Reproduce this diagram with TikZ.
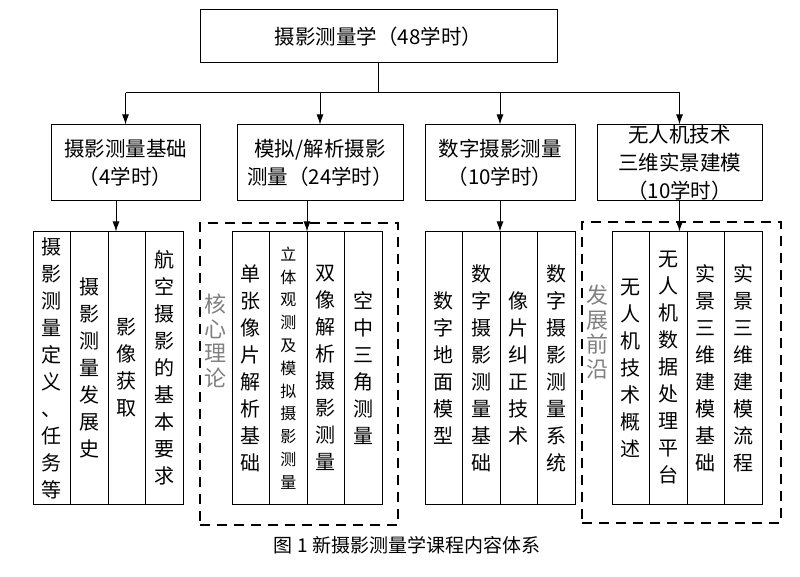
\documentclass[tikz,border=0pt]{standalone}
\usepackage{fontspec}
\setmainfont{Noto Sans CJK SC}
\usetikzlibrary{arrows.meta}

\begin{document}
\begin{tikzpicture}[x=1pt, y=-1pt, >={Latex[length=10pt, width=7pt]}, line width=1pt,
    box/.style={draw, align=center, inner ysep=0pt, font=\fontsize{20.5}{28}\selectfont},
    col/.style={draw, minimum width=37.5pt, minimum height=272pt, inner sep=0pt, align=center, font=\fontsize{20}{27}\selectfont},
    dashbox/.style={draw, line width=1.3pt, dash pattern=on 10pt off 7pt, inner sep=0pt},
    graytxt/.style={text=black!50, align=center, inner sep=0pt, font=\fontsize{22}{24.5}\selectfont}]
    \useasboundingbox (0,0) rectangle (800,577);
    % top level
    \node[box, minimum width=357pt, minimum height=53pt] (top) at (378.5,36.5) {摄影测量学（48学时）};
    \coordinate (j0) at (379,93);
    % four parts
    \node[box, minimum width=149pt, minimum height=76pt] (b1) at (125.5,163) {摄影测量基础\\（4学时）};
    \node[box, minimum width=166pt, minimum height=76pt] (b2) at (320,163) {模拟/解析摄影\\测量（24学时）};
    \node[box, minimum width=150pt, minimum height=76pt] (b3) at (500,163) {数字摄影测量\\（10学时）};
    \node[box, minimum width=165pt, minimum height=76pt] (b4) at (679.5,163) {无人机技术\\三维实景建模\\（10学时）};
    \draw (top.south) -- (top.south |- j0);
    \draw (b1.north |- j0) -- (b4.north |- j0);
    \foreach \n in {b1,b2,b3,b4}
        \draw[->] (\n.north |- j0) -- (\n.north);
    % dashed frames
    \node[dashbox, minimum width=198pt, minimum height=302pt] (core) at (299,374) {};
    \node[dashbox, minimum width=199pt, minimum height=301pt] (front) at (681.5,372.5) {};
    \node[graytxt] (coretxt) at (215,341) {核\\心\\理\\论};
    \node[graytxt] (fronttxt) at (597,332) {发\\展\\前\\沿};
    % topics
    \node[col] (c11) at (51.75,368) {摄\\影\\测\\量\\定\\义\\、\\任\\务\\等};
    \node[col] (c12) at (89.25,368) {摄\\影\\测\\量\\发\\展\\史};
    \node[col] (c13) at (126.75,368) {影\\像\\获\\取};
    \node[col] (c14) at (164.25,368) {航\\空\\摄\\影\\的\\基\\本\\要\\求};
    \node[col] (c21) at (250.75,368) {单\\张\\像\\片\\解\\析\\基\\础};
    \node[col, font=\fontsize{16}{22.8}\selectfont] (c22) at (288.25,368) {立\\体\\观\\测\\及\\模\\拟\\摄\\影\\测\\量};
    \node[col] (c23) at (325.75,368) {双\\像\\解\\析\\摄\\影\\测\\量};
    \node[col] (c24) at (363.25,368) {空\\中\\三\\角\\测\\量};
    \node[col] (c31) at (443.75,368) {数\\字\\地\\面\\模\\型};
    \node[col] (c32) at (481.25,368) {数\\字\\摄\\影\\测\\量\\基\\础};
    \node[col] (c33) at (518.75,368) {像\\片\\纠\\正\\技\\术};
    \node[col] (c34) at (556.25,368) {数\\字\\摄\\影\\测\\量\\系\\统};
    \node[col] (c41) at (630.75,368) {无\\人\\机\\技\\术\\概\\述};
    \node[col] (c42) at (668.25,368) {无\\人\\机\\数\\据\\处\\理\\平\\台};
    \node[col] (c43) at (705.75,368) {实\\景\\三\\维\\建\\模\\基\\础};
    \node[col] (c44) at (743.25,368) {实\\景\\三\\维\\建\\模\\流\\程};
    \draw[->] ([xshift=-9.5pt]b1.south) -- ([xshift=-9.5pt]b1.south |- c13.north);
    \draw[->] ([xshift=-13pt]b2.south) -- ([xshift=-13pt]b2.south |- c22.north);
    \draw[->] (b3.south) -- (b3.south |- c33.north);
    \draw[->] (b4.south) -- (b4.south |- c42.north);
    % caption
    \node[font=\fontsize{19}{19}\selectfont] (cap) at (407,545) {图 1 新摄影测量学课程内容体系};
\end{tikzpicture}
\end{document}
